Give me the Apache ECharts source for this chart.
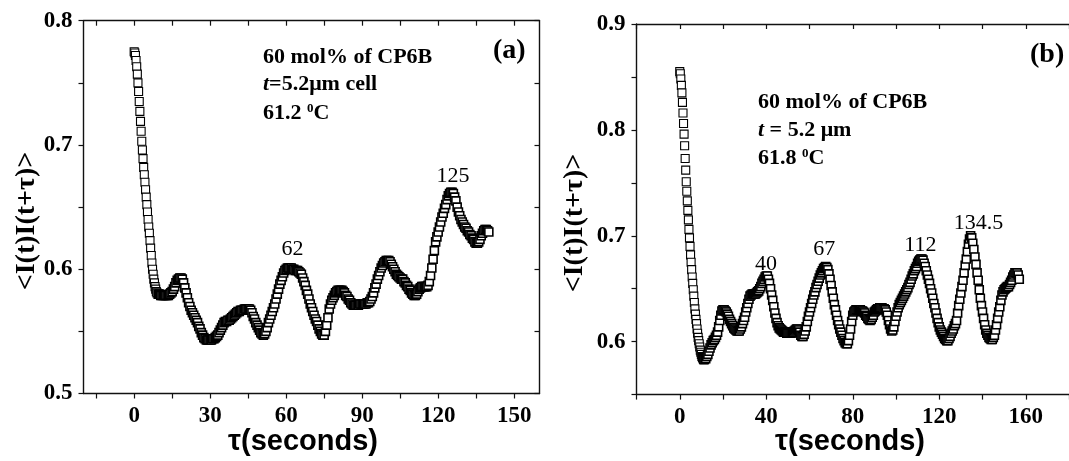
<!DOCTYPE html>
<html><head><meta charset="utf-8">
<script src="https://cdn.jsdelivr.net/npm/echarts@6/dist/echarts.min.js"></script>
<style>html,body{margin:0;padding:0;background:#fff}#c{width:1069px;height:461px}</style>
</head><body><div id="c"></div>
<script>
// ---------- Panel (a) data ----------
const fastStartA = 0, fastStepA = 0.25;
const fastValsA = [0.775,0.774,0.772,0.768,0.763,0.757,0.750,0.743,0.735,0.727,0.719,0.711,0.703,0.696,0.689,0.682,0.676,0.670,0.664,0.658,0.652,0.646,0.640,0.634,0.629,0.623,0.617,0.611,0.605,0.600,0.596,0.592,0.589,0.586,0.584,0.582,0.581];
const bodyStartA = 9.5, bodyStepA = 0.5;
const bodyValsA = [0.580,
0.580,0.579,0.579,0.579,0.579,0.579,0.579,0.579,0.580,0.581,
0.582,0.584,0.586,0.589,0.591,0.592,0.593,0.593,0.592,0.589,
0.585,0.581,0.577,0.573,0.570,0.567,0.565,0.563,0.561,0.559,
0.557,0.554,0.552,0.549,0.547,0.545,0.544,0.543,0.543,0.543,
0.543,0.543,0.544,0.544,0.545,0.546,0.547,0.549,0.551,0.553,
0.555,0.557,0.558,0.558,0.559,0.559,0.560,0.561,0.562,0.563,
0.564,0.565,0.566,0.566,0.567,0.567,0.567,0.568,0.568,0.568,
0.568,0.568,0.567,0.565,0.562,0.560,0.557,0.555,0.553,0.551,
0.549,0.548,0.547,0.548,0.550,0.553,0.557,0.560,0.563,0.566,
0.569,0.572,0.576,0.580,0.584,0.588,0.591,0.594,0.597,0.599,
0.600,0.601,0.601,0.601,0.601,0.600,0.600,0.599,0.599,0.599,
0.598,0.597,0.596,0.593,0.590,0.587,0.583,0.580,0.576,0.572,
0.569,0.566,0.563,0.560,0.558,0.555,0.552,0.550,0.548,0.547,
0.547,0.550,0.555,0.561,0.568,0.572,0.575,0.577,0.579,0.581,
0.582,0.583,0.583,0.583,0.583,0.582,0.581,0.579,0.578,0.576,
0.575,0.573,0.572,0.571,0.571,0.571,0.571,0.571,0.572,0.572,
0.572,0.572,0.572,0.572,0.573,0.573,0.574,0.576,0.578,0.581,
0.585,0.588,0.592,0.595,0.598,0.601,0.603,0.605,0.606,0.607,
0.607,0.607,0.606,0.604,0.602,0.600,0.598,0.596,0.595,0.594,
0.593,0.592,0.592,0.590,0.589,0.587,0.586,0.584,0.583,0.581,
0.580,0.579,0.579,0.580,0.582,0.584,0.585,0.586,0.586,0.586,
0.586,0.586,0.587,0.590,0.595,0.601,0.608,0.615,0.622,0.626,
0.630,0.634,0.638,0.642,0.645,0.649,0.652,0.656,0.659,0.661,
0.662,0.662,0.661,0.658,0.655,0.650,0.646,0.643,0.640,0.638,
0.636,0.634,0.633,0.631,0.630,0.628,0.627,0.625,0.624,0.622,
0.621,0.621,0.622,0.624,0.627,0.629,0.631,0.632,0.632,0.631,
0.630];
const xTicksA = [-15,0,15,30,45,60,75,90,105,120,135,150];
const xLabelsA = [0,30,60,90,120,150];
const yTicksA = [0.5,0.55,0.6,0.65,0.7,0.75,0.8];
const yLabelsA = [0.5,0.6,0.7,0.8];
const peakNamesA = ['62','125'];
const peakTauA = [62.5,125.9];
const peakValA = [0.616,0.675];

// ---------- Panel (b) data ----------
const fastStartB = 0, fastStepB = 0.25;
const fastValsB = [0.855,0.853,0.848,0.842,0.835,0.826,0.816,0.806,0.796,0.785,0.773,0.762,0.751,0.742,0.733,0.724,0.715,0.706,0.698,0.690,0.682,0.675,0.668,0.661,0.655,0.649,0.643,0.637,0.631,0.626,0.621,0.617,0.612,0.608,0.604,0.601,0.598,0.595,0.592,0.590,0.588,0.586,0.585,0.584,0.583,0.583,0.583];
const bodyStartB = 12, bodyStepB = 0.5;
const bodyValsB = [
0.584,0.586,0.588,0.591,0.594,0.597,0.599,0.601,0.602,0.604,
0.606,0.609,0.614,0.620,0.625,0.629,0.630,0.630,0.629,0.628,
0.626,0.624,0.621,0.619,0.617,0.615,0.613,0.612,0.611,0.610,
0.610,0.610,0.612,0.614,0.617,0.620,0.623,0.628,0.632,0.636,
0.640,0.643,0.644,0.645,0.645,0.645,0.645,0.646,0.647,0.648,
0.650,0.652,0.655,0.657,0.659,0.661,0.662,0.662,0.659,0.655,
0.650,0.644,0.639,0.633,0.627,0.622,0.618,0.615,0.613,0.612,
0.611,0.610,0.609,0.609,0.609,0.608,0.608,0.608,0.608,0.608,
0.609,0.609,0.610,0.611,0.612,0.612,0.611,0.609,0.606,0.605,
0.605,0.607,0.610,0.614,0.619,0.624,0.628,0.632,0.636,0.640,
0.644,0.647,0.651,0.654,0.657,0.660,0.663,0.665,0.667,0.669,
0.670,0.671,0.670,0.668,0.664,0.659,0.653,0.647,0.641,0.635,
0.630,0.625,0.620,0.616,0.612,0.609,0.606,0.603,0.601,0.599,
0.598,0.598,0.601,0.606,0.612,0.619,0.625,0.628,0.629,0.630,
0.630,0.630,0.630,0.630,0.629,0.629,0.628,0.627,0.625,0.624,
0.622,0.621,0.620,0.621,0.623,0.625,0.628,0.629,0.630,0.631,
0.631,0.632,0.632,0.632,0.631,0.631,0.630,0.628,0.625,0.620,
0.616,0.612,0.610,0.611,0.614,0.619,0.624,0.628,0.632,0.635,
0.637,0.639,0.641,0.643,0.645,0.647,0.649,0.651,0.654,0.656,
0.659,0.662,0.664,0.667,0.669,0.671,0.674,0.676,0.677,0.678,
0.678,0.677,0.674,0.671,0.667,0.663,0.659,0.655,0.650,0.646,
0.641,0.636,0.632,0.627,0.622,0.618,0.614,0.611,0.609,0.607,
0.605,0.603,0.602,0.601,0.601,0.603,0.605,0.608,0.610,0.612,
0.615,0.617,0.620,0.627,0.634,0.640,0.646,0.652,0.658,0.665,
0.672,0.678,0.685,0.692,0.697,0.700,0.698,0.693,0.687,0.680,
0.673,0.665,0.658,0.649,0.641,0.634,0.628,0.622,0.616,0.611,
0.608,0.606,0.604,0.603,0.602,0.602,0.604,0.606,0.611,0.616,
0.622,0.628,0.633,0.639,0.644,0.647,0.649,0.650,0.651,0.652,
0.652,0.654,0.656,0.658,0.661,0.663,0.665,0.665,0.665,0.663,
0.659];
const xTicksB = [-20,0,20,40,60,80,100,120,140,160,180];
const xLabelsB = [0,40,80,120,160];
const yTicksB = [0.55,0.6,0.65,0.7,0.75,0.8,0.85,0.9];
const yLabelsB = [0.6,0.7,0.8,0.9];
const peakNamesB = ['40','67','112','134.5'];
const peakTauB = [39.9,66.8,111.3,138.2];
const peakValB = [0.673,0.687,0.691,0.712];

// ---------- helpers ----------
function points(s, st, vals) {
  return vals.map((v, i) => [s + i * st, v]);
}
const fastA = points(fastStartA, fastStepA, fastValsA);
const bodyA = points(bodyStartA, bodyStepA, bodyValsA);
const fastB = points(fastStartB, fastStepB, fastValsB);
const bodyB = points(bodyStartB, bodyStepB, bodyValsB);

const SERIF = '"Liberation Serif","Times New Roman",serif';
const SANS = '"Liberation Sans",Arial,sans-serif';
const AX = '#111';
const tickLbl = {fontFamily: SERIF, fontWeight: 'bold', fontSize: 23, color: '#000'};

function xAx(gi, min, max, ticks, labels, pos) {
  const top = pos === 'top';
  return {
    type: 'value', gridIndex: gi, min: min, max: max, position: pos,
    axisLine: {show: true, onZero: false, lineStyle: {color: AX, width: 1.4}},
    axisTick: {show: true, inside: top, length: 5, customValues: ticks, lineStyle: {color: AX, width: 1.2}},
    axisLabel: top ? {show: false} : Object.assign({show: true, margin: 11, customValues: labels, formatter: v => String(v)}, tickLbl),
    splitLine: {show: false}
  };
}
function yAx(gi, min, max, ticks, labels, pos) {
  const right = pos === 'right';
  return {
    type: 'value', gridIndex: gi, min: min, max: max, position: pos,
    axisLine: {show: true, onZero: false, lineStyle: {color: AX, width: 1.4}},
    axisTick: {show: true, inside: right, length: 5, customValues: ticks, lineStyle: {color: AX, width: 1.2}},
    axisLabel: right ? {show: false} : Object.assign({show: true, margin: 11, customValues: labels, formatter: v => v.toFixed(1)}, tickLbl),
    splitLine: {show: false}
  };
}
function peaks(names, taus, vals) {
  return {
    symbol: 'circle', symbolSize: 1, itemStyle: {color: 'rgba(0,0,0,0)'},
    label: {show: true, position: 'inside', formatter: '{b}', fontFamily: SERIF, fontSize: 22, color: '#000'},
    data: names.map((n, i) => ({name: n, coord: [taus[i], vals[i]]}))
  };
}
function scatter(xi, yi, data, bw, mp) {
  const s = {
    type: 'scatter', xAxisIndex: xi, yAxisIndex: yi, data: data,
    symbol: 'rect', symbolSize: [8, 8], large: false, progressive: 0,
    itemStyle: {color: '#fff', borderColor: '#000', borderWidth: bw, opacity: 1},
    emphasis: {disabled: true}, z: 3
  };
  if (mp) s.markPoint = mp;
  return s;
}
function txt(x, y, rich, text) {
  return {type: 'text', x: x, y: y, z: 10,
    style: {text: text, rich: rich, fill: '#000', align: 'left', verticalAlign: 'middle',
      fontFamily: SERIF, fontWeight: 'bold', fontSize: 22}};
}
const R = {
  n: {fontFamily: SERIF, fontWeight: 'bold', fontSize: 22, fill: '#000'},
  i: {fontFamily: SERIF, fontWeight: 'bold', fontStyle: 'italic', fontSize: 22, fill: '#000'},
  s: {fontFamily: SERIF, fontWeight: 'bold', fontSize: 13, fill: '#000', verticalAlign: 'top', lineHeight: 22}
};
function bigTxt(x, y, t) {
  return {type: 'text', x: x, y: y, z: 10, style: {text: t, fill: '#000', align: 'left', verticalAlign: 'middle', fontFamily: SERIF, fontWeight: 'bold', fontSize: 28}};
}

const option = {
  animation: false,
  backgroundColor: '#fff',
  grid: [
    {left: 83.5, top: 20.7, width: 456, height: 372.8},
    {left: 636.5, top: 24, width: 443.4, height: 370.6}
  ],
  xAxis: [
    xAx(0, -20, 160, xTicksA, xLabelsA, 'bottom'),
    xAx(0, -20, 160, xTicksA, xLabelsA, 'top'),
    xAx(1, -20, 180, xTicksB, xLabelsB, 'bottom'),
    xAx(1, -20, 180, xTicksB, xLabelsB, 'top')
  ],
  yAxis: [
    yAx(0, 0.5, 0.8, yTicksA, yLabelsA, 'left'),
    yAx(0, 0.5, 0.8, yTicksA, yLabelsA, 'right'),
    yAx(1, 0.55, 0.9, yTicksB, yLabelsB, 'left')
  ],
  series: [
    scatter(0, 0, fastA, 1.1),
    scatter(0, 0, bodyA, 1.6, peaks(peakNamesA, peakTauA, peakValA)),
    scatter(2, 2, fastB, 1.1),
    scatter(2, 2, bodyB, 1.6, peaks(peakNamesB, peakTauB, peakValB))
  ],
  graphic: [
    txt(263, 57, R, '{n|60 mol% of CP6B}'),
    txt(263, 84, R, '{i|t}{n|=5.2μm cell}'),
    txt(263, 113, R, '{n|61.2 }{s|0}{n|C}'),
    bigTxt(493, 51, '(a)'),
    txt(758, 102, R, '{n|60 mol% of CP6B}'),
    txt(758, 130, R, '{i|t}{n| = 5.2 μm}'),
    txt(758, 158, R, '{n|61.8 }{s|0}{n|C}'),
    bigTxt(1030, 55, '(b)'),
    {type: 'text', x: 303, y: 442, z: 10, style: {text: 'τ(seconds)', fill: '#000', align: 'center', verticalAlign: 'middle', fontFamily: SANS, fontWeight: 'bold', fontSize: 29}},
    {type: 'text', x: 850, y: 442, z: 10, style: {text: 'τ(seconds)', fill: '#000', align: 'center', verticalAlign: 'middle', fontFamily: SANS, fontWeight: 'bold', fontSize: 29}},
    {type: 'text', x: 27, y: 221, rotation: Math.PI / 2, z: 10, style: {text: '<I(t)I(t+τ)>', fill: '#000', align: 'center', verticalAlign: 'middle', fontFamily: SERIF, fontWeight: 'bold', fontSize: 28}},
    {type: 'text', x: 575, y: 223, rotation: Math.PI / 2, z: 10, style: {text: '<I(t)I(t+τ)>', fill: '#000', align: 'center', verticalAlign: 'middle', fontFamily: SERIF, fontWeight: 'bold', fontSize: 28}}
  ]
};
const chart = echarts.init(document.getElementById('c'), null, {renderer: 'canvas'});
chart.setOption(option);
</script>
</body></html>
